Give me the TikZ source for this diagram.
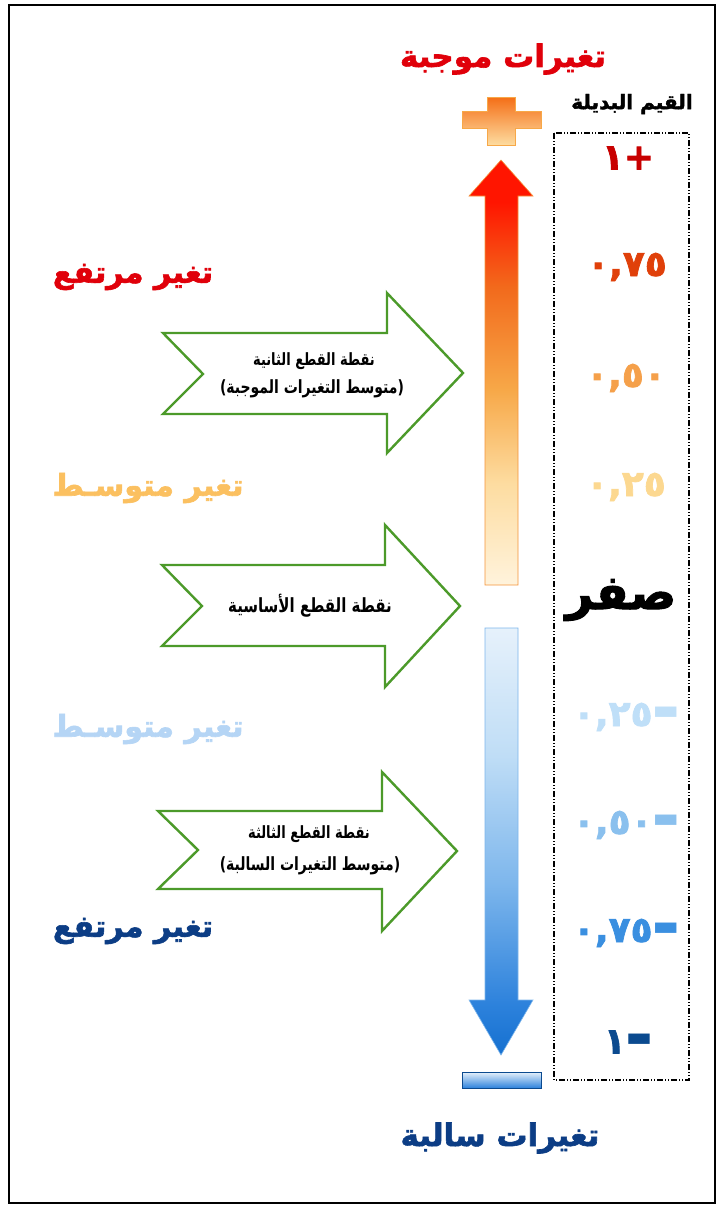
\documentclass[tikz,border=0pt]{standalone}
\usepackage{fontspec}
\usepackage{graphicx}
\TeXXeTstate=1
\newfontfamily\arabicfont[Script=Arabic]{DejaVu Sans}
\newfontfamily\arheavy[Script=Arabic, BoldFeatures={FakeBold=2}]{DejaVu Sans}
\definecolor{titlered}{HTML}{E0000A}
\definecolor{navy}{HTML}{0C3D85}
\definecolor{midorange}{HTML}{FBC060}
\definecolor{lightblue}{HTML}{B5D5F5}
\definecolor{arrowgreen}{HTML}{4C9A2A}
\definecolor{vone}{HTML}{C80000}
\definecolor{vsevfive}{HTML}{E0400A}
\definecolor{vfifty}{HTML}{F5A04A}
\definecolor{vtwfive}{HTML}{FCD890}
\definecolor{vmtwfive}{HTML}{BFDFF8}
\definecolor{vmfifty}{HTML}{8AC0EE}
\definecolor{vmsevfive}{HTML}{3A8FE0}
\definecolor{vmone}{HTML}{0B4A8F}
\definecolor{ua}{HTML}{FFF3DC}
\definecolor{ub}{HTML}{FDDCA0}
\definecolor{uc}{HTML}{F7A848}
\definecolor{ud}{HTML}{F26A1C}
\definecolor{ue}{HTML}{FF1500}
\definecolor{da}{HTML}{E6F1FB}
\definecolor{db}{HTML}{BFDDF6}
\definecolor{dc}{HTML}{7DB6EC}
\definecolor{dd}{HTML}{2D82DC}
\definecolor{de}{HTML}{1570D0}
\pgfdeclareverticalshading{upgrad}{100bp}{color(0bp)=(ua); color(25bp)=(ua); color(37bp)=(ub); color(48bp)=(uc); color(60bp)=(ud); color(70bp)=(ue); color(100bp)=(ue)}
\pgfdeclareverticalshading{downgrad}{100bp}{color(0bp)=(de); color(25bp)=(de); color(31bp)=(dd); color(45bp)=(dc); color(60bp)=(db); color(75bp)=(da); color(100bp)=(da)}
\newcommand{\AR}[1]{\beginR #1\endR}
\newcommand{\ARt}[1]{\scalebox{1}[1.3]{\beginR #1\endR}}
\newcommand{\minusbar}{\raisebox{7pt}{\arabicfont\mdseries\fontsize{28}{30}\selectfont ▬}}
\tikzset{
  artext/.style={inner sep=0pt, font=\arabicfont\bfseries\fontsize{#1}{#1}\selectfont},
  heavy/.style={inner sep=0pt, font=\arheavy\bfseries\fontsize{#1}{#1}\selectfont},
  greenarrow/.style={draw=arrowgreen, line width=2.4pt, fill=white, line join=miter},
  valbox/.style={draw=black, line width=1.2pt, dash pattern=on 6pt off 2pt on 1pt off 2pt on 1pt off 2pt},
}
\begin{document}
\begin{tikzpicture}[x=1pt,y=-1pt]
\useasboundingbox (0,0) rectangle (717,1205);
\fill[white] (0,0) rectangle (717,1205);
\draw[black, line width=2pt] (9,5) rectangle (715,1203);

% titles
\node[heavy=31, text=titlered] (ttop) at (503,59) {\AR{تغيرات موجبة}};
\node[heavy=31, text=navy] (tbot) at (500,1138) {\AR{تغيرات سالبة}};
\node[heavy=20, text=black] (thead) at (632,104) {\AR{القيم البديلة}};

% plus sign
\shade[top color=ud!80!orange, bottom color=ub, draw=uc, line width=0.6pt]
  (487,97) -- (515,97) -- (515,111) -- (541,111) -- (541,128) -- (515,128) -- (515,145) -- (487,145) -- (487,128) -- (462,128) -- (462,111) -- (487,111) -- cycle;
% minus sign
\shade[top color=da, bottom color=dd, draw=vmone, line width=0.8pt] (462,1072) rectangle (541,1088);

% up arrow
\shade[shading=upgrad, draw=uc!70!ud, line width=0.6pt]
  (501,160) -- (533,196) -- (518,196) -- (518,585) -- (485,585) -- (485,196) -- (469,196) -- cycle;
% down arrow
\shade[shading=downgrad, draw=dc, line width=0.6pt]
  (485,628) -- (518,628) -- (518,1000) -- (533,1000) -- (501,1055) -- (469,1000) -- (485,1000) -- cycle;

% value box
\draw[valbox] (554,133) rectangle (689,1080);
\node[heavy=36, text=vone] (v1) at (628,158) {\mbox{١}\mbox{+}};
\node[heavy=36, text=vsevfive] (v2) at (627,267) {٠,٧٥};
\node[heavy=36, text=vfifty] (v3) at (626,378) {٠,٥٠};
\node[heavy=36, text=vtwfive] (v4) at (626,487) {٠,٢٥};
\node[heavy=48, text=black] (v5) at (621,600) {\AR{صفر}};
\node[heavy=36, text=vmtwfive] (v6) at (626,717) {\mbox{٠,٢٥}\minusbar};
\node[heavy=36, text=vmfifty] (v7) at (626,825) {\mbox{٠,٥٠}\minusbar};
\node[heavy=36, text=vmsevfive] (v8) at (626,933) {\mbox{٠,٧٥}\minusbar};
\node[heavy=36, text=vmone] (v9) at (628,1042) {\mbox{١}\minusbar};

% left labels
\node[heavy=30, text=titlered] (l1) at (133,277) {\AR{تغير مرتفع}};
\node[heavy=30, text=midorange] (l2) at (148,488) {\AR{تغير متوسـط}};
\node[heavy=30, text=lightblue] (l3) at (148,729) {\AR{تغير متوسـط}};
\node[heavy=30, text=navy] (l4) at (133,931) {\AR{تغير مرتفع}};

% green arrows
\draw[greenarrow] (163,333) -- (387,333) -- (387,293) -- (463,373) -- (387,453) -- (387,414) -- (163,414) -- (203,374) -- cycle;
\draw[greenarrow] (162,565) -- (385,565) -- (385,525) -- (460,606) -- (385,687) -- (385,646) -- (162,646) -- (202,606) -- cycle;
\draw[greenarrow] (158,811) -- (382,811) -- (382,772) -- (457,851) -- (382,931) -- (382,889) -- (158,889) -- (198,850) -- cycle;

\node[artext=13] (a1a) at (314,361) {\ARt{نقطة القطع الثانية}};
\node[artext=14] (a1b) at (312,389) {\ARt{(متوسط التغيرات الموجبة)}};
\node[artext=15] (a2) at (310,606) {\ARt{نقطة القطع الأساسية}};
\node[artext=13] (a3a) at (309,834) {\ARt{نقطة القطع الثالثة}};
\node[artext=14] (a3b) at (310,866) {\ARt{(متوسط التغيرات السالبة)}};
\end{tikzpicture}
\end{document}
